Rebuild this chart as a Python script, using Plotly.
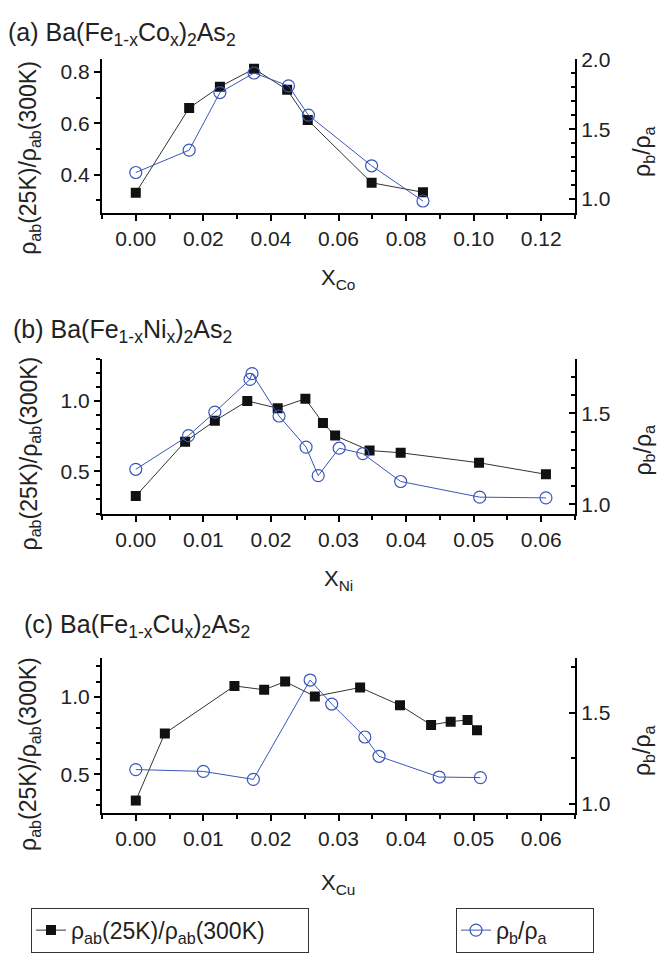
import plotly.graph_objects as go

# ---------------- data ----------------
co_x_sq = [0.0, 0.0158, 0.0249, 0.0350, 0.0448, 0.0509, 0.0698, 0.0850]
co_rho = [0.329, 0.660, 0.743, 0.813, 0.731, 0.613, 0.368, 0.331]
co_x_ci = [0.0, 0.0158, 0.0249, 0.0350, 0.0452, 0.0511, 0.0698, 0.0850]
co_aniso = [1.190, 1.350, 1.762, 1.902, 1.810, 1.600, 1.238, 0.986]

ni_x_sq = [0.0, 0.0073, 0.0117, 0.0165, 0.0210, 0.0251, 0.0277, 0.0295, 0.0346, 0.0392, 0.0508, 0.0607]
ni_rho = [0.324, 0.711, 0.859, 1.000, 0.949, 1.016, 0.843, 0.754, 0.648, 0.632, 0.561, 0.479]
ni_x_ci = [0.0, 0.0078, 0.0117, 0.0169, 0.0172, 0.0212, 0.0252, 0.0270, 0.0301, 0.0336, 0.0392, 0.0509, 0.0607]
ni_aniso = [1.193, 1.378, 1.507, 1.687, 1.719, 1.486, 1.315, 1.158, 1.309, 1.279, 1.126, 1.040, 1.036]

cu_x_sq = [0.0, 0.0043, 0.0146, 0.0190, 0.0221, 0.0265, 0.0332, 0.0391, 0.0437, 0.0466, 0.0491, 0.0505]
cu_rho = [0.331, 0.765, 1.072, 1.047, 1.100, 1.004, 1.062, 0.947, 0.820, 0.841, 0.852, 0.786]
cu_x_ci = [0.0, 0.0100, 0.0174, 0.0258, 0.0290, 0.0339, 0.0360, 0.0449, 0.0510]
cu_aniso = [1.189, 1.179, 1.135, 1.681, 1.549, 1.368, 1.262, 1.148, 1.145]

panel_titles = ["(a) Ba(Fe<sub>1-x</sub>Co<sub>x</sub>)<sub>2</sub>As<sub>2</sub>",
                "(b) Ba(Fe<sub>1-x</sub>Ni<sub>x</sub>)<sub>2</sub>As<sub>2</sub>",
                "(c) Ba(Fe<sub>1-x</sub>Cu<sub>x</sub>)<sub>2</sub>As<sub>2</sub>"]
x_titles = ["X<sub>Co</sub>", "X<sub>Ni</sub>", "X<sub>Cu</sub>"]
left_title = "ρ<sub>ab</sub>(25K)/ρ<sub>ab</sub>(300K)"
right_title = "ρ<sub>b</sub>/ρ<sub>a</sub>"
legend_names = ["ρ<sub>ab</sub>(25K)/ρ<sub>ab</sub>(300K)", "ρ<sub>b</sub>/ρ<sub>a</sub>"]

# ---------------- layout geometry ----------------
W, H = 658, 954
FONT = "Liberation Sans, Arial, sans-serif"
TXT = "#222222"
BLUE = "#3a56b8"
px_x = lambda v: v / W
px_y = lambda v: 1 - v / H

xdom = [px_x(102), px_x(575)]
panels = [
    dict(top=48, bot=204, xr=[-0.01, 0.13], xd=0.02, xm=0.01,
         yl=[0.25, 0.85], yld=0.2, ylm=0.1, yr=[0.9, 2.0], yrd=0.5, yrm=0.1,
         sq=(co_x_sq, co_rho), ci=(co_x_ci, co_aniso),
         title_xy=(6, 22), xt_y=271, lt_y=148, rt_y=142),
    dict(top=352, bot=509, xr=[-0.005, 0.065], xd=0.01, xm=0.005,
         yl=[0.2, 1.3], yld=0.5, ylm=0.1, yr=[0.95, 1.8], yrd=0.5, yrm=0.1,
         sq=(ni_x_sq, ni_rho), ci=(ni_x_ci, ni_aniso),
         title_xy=(11, 324), xt_y=576, lt_y=448, rt_y=445),
    dict(top=656, bot=813, xr=[-0.005, 0.065], xd=0.01, xm=0.005,
         yl=[0.25, 1.25], yld=0.5, ylm=0.1, yr=[0.95, 1.8], yrd=0.5, yrm=0.25,
         sq=(cu_x_sq, cu_rho), ci=(cu_x_ci, cu_aniso),
         title_xy=(22, 623), xt_y=885, lt_y=753, rt_y=750),
]

fig = go.Figure()
layout = dict(
    width=W, height=H, margin=dict(l=0, r=0, t=0, b=0),
    paper_bgcolor="white", plot_bgcolor="white",
    font=dict(family=FONT, size=21, color=TXT),
    showlegend=True,
    annotations=[],
)

tickfont = dict(family=FONT, size=21, color=TXT)
for i, p in enumerate(panels):
    xb = 2 * i + 1
    xt = 2 * i + 2
    yl = 2 * i + 1
    yr = 2 * i + 2
    xbn = "x" if xb == 1 else f"x{xb}"
    ybn = "y" if yl == 1 else f"y{yl}"
    yrn = f"y{yr}"
    ydom = [px_y(p["bot"]), px_y(p["top"])]

    layout["xaxis" if xb == 1 else f"xaxis{xb}"] = dict(
        domain=xdom, anchor=ybn, range=p["xr"], tick0=0, dtick=p["xd"], tickformat=".2f",
        showline=True, linewidth=2, linecolor="black", ticks="outside", ticklen=6,
        tickwidth=1.5, tickcolor="black", showgrid=False, zeroline=False, tickfont=tickfont,
        minor=dict(dtick=p["xm"], tick0=0, ticks="outside", ticklen=4, tickwidth=1.5,
                   tickcolor="black", showgrid=False),
    )
    layout[f"xaxis{xt}"] = dict(
        domain=xdom, anchor=ybn, overlaying=xbn, side="top", range=p["xr"], tick0=0,
        dtick=p["xd"], showticklabels=False, showline=True, linewidth=2, linecolor="black",
        ticks="inside", ticklen=6, tickwidth=1.5, tickcolor="black", showgrid=False,
        zeroline=False,
        minor=dict(dtick=p["xm"], tick0=0, ticks="inside", ticklen=4, tickwidth=1.5,
                   tickcolor="black", showgrid=False),
    )
    layout["yaxis" if yl == 1 else f"yaxis{yl}"] = dict(
        domain=ydom, anchor=xbn, range=p["yl"], tick0=0, dtick=p["yld"], tickformat=".1f",
        showline=True, linewidth=2, linecolor="black", ticks="outside", ticklen=6,
        tickwidth=1.5, tickcolor="black", showgrid=False, zeroline=False, tickfont=tickfont,
        minor=dict(dtick=p["ylm"], tick0=0, ticks="outside", ticklen=4, tickwidth=1.5,
                   tickcolor="black", showgrid=False),
    )
    layout[f"yaxis{yr}"] = dict(
        domain=ydom, anchor=xbn, overlaying=ybn, side="right", range=p["yr"], tick0=0,
        dtick=p["yrd"], tickformat=".1f", showline=True, linewidth=2, linecolor="black",
        ticks="inside", ticklen=6, tickwidth=1.5, tickcolor="black", showgrid=False,
        zeroline=False, tickfont=tickfont,
        minor=dict(dtick=p["yrm"], tick0=0, ticks="inside", ticklen=4, tickwidth=1.5,
                   tickcolor="black", showgrid=False),
    )

    fig.add_trace(go.Scatter(
        x=p["sq"][0], y=p["sq"][1], xaxis=xbn, yaxis=ybn, mode="lines+markers",
        line=dict(color="#333333", width=1),
        marker=dict(symbol="square", size=10, color="#111111", line=dict(width=0)),
        name=legend_names[0], legend="legend", legendgroup="rho",
        showlegend=(i == 0),
    ))
    fig.add_trace(go.Scatter(
        x=p["ci"][0], y=p["ci"][1], xaxis=xbn, yaxis=yrn, mode="lines+markers",
        line=dict(color=BLUE, width=1),
        marker=dict(symbol="circle-open", size=12, color=BLUE, line=dict(width=1.2, color=BLUE)),
        name=legend_names[1], legend="legend2", legendgroup="aniso",
        showlegend=(i == 0),
    ))

    tx, ty = p["title_xy"]
    layout["annotations"] += [
        dict(text=panel_titles[i], x=px_x(tx), y=px_y(ty), xref="paper", yref="paper",
             xanchor="left", yanchor="middle", showarrow=False,
             font=dict(family=FONT, size=25, color=TXT)),
        dict(text=x_titles[i], x=px_x(338), y=px_y(p["xt_y"]), xref="paper", yref="paper",
             xanchor="center", yanchor="middle", showarrow=False,
             font=dict(family=FONT, size=22, color=TXT)),
        dict(text=left_title, x=px_x(30), y=px_y(p["lt_y"]), xref="paper", yref="paper",
             xanchor="center", yanchor="middle", textangle=-90, showarrow=False,
             font=dict(family=FONT, size=23, color=TXT)),
        dict(text=right_title, x=px_x(644), y=px_y(p["rt_y"]), xref="paper", yref="paper",
             xanchor="center", yanchor="middle", textangle=-90, showarrow=False,
             font=dict(family=FONT, size=23, color=TXT)),
    ]

layout["legend"] = dict(x=px_x(31), y=px_y(909), xanchor="left", yanchor="top",
                        orientation="h", entrywidth=232,
                        bordercolor="#333333", borderwidth=1, bgcolor="white",
                        font=dict(family=FONT, size=23, color=TXT))
layout["legend2"] = dict(x=px_x(456), y=px_y(909), xanchor="left", yanchor="top",
                         orientation="h", entrywidth=92,
                         bordercolor="#333333", borderwidth=1, bgcolor="white",
                         font=dict(family=FONT, size=23, color=TXT))
fig.update_layout(**layout)
fig.write_html("out.html", config={"displayModeBar": False},
               post_script="document.body.style.margin='0';document.body.style.overflow='hidden';")
